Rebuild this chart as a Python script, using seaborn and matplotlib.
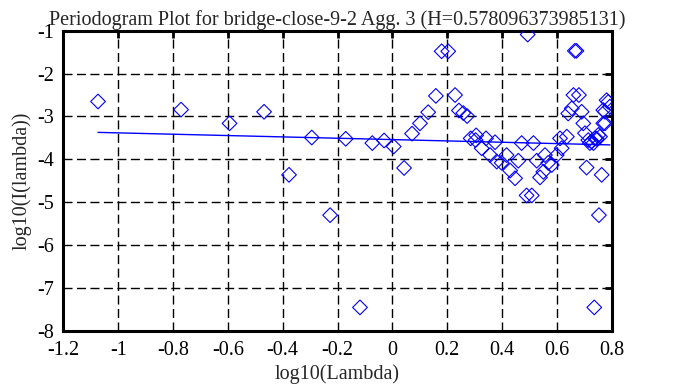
import numpy as np
import pandas as pd
import seaborn as sns
import matplotlib
matplotlib.use("Agg")
import matplotlib.pyplot as plt

# periodogram points (log10 lambda, log10 I(lambda))
log_lambda = [-1.074, -0.771, -0.594, -0.468, -0.377, -0.294, -0.227, -0.170,
              -0.118, -0.073, -0.030, 0.005, 0.043, 0.072, 0.101, 0.131,
              0.159, 0.180, 0.204, 0.229, 0.243, 0.259, 0.273, 0.286,
              0.306, 0.304, 0.326, 0.342, 0.357, 0.375, 0.381, 0.399,
              0.417, 0.430, 0.448, 0.460, 0.472, 0.490, 0.494, 0.509,
              0.515, 0.527, 0.539, 0.551, 0.557, 0.569, 0.582, 0.600,
              0.612, 0.618, 0.637, 0.642, 0.655, 0.661, 0.666, 0.672,
              0.681, 0.691, 0.697, 0.703, 0.709, 0.715, 0.721, 0.727,
              0.734, 0.737, 0.740, 0.746, 0.752, 0.754, 0.758, 0.764,
              0.770, 0.770, 0.776, 0.776, 0.782, 0.788, 0.794]
log_I = [-2.65, -2.84, -3.16, -2.89, -4.36, -3.49, -5.30, -3.52,
         -7.45, -3.62, -3.56, -3.70, -4.20, -3.40, -3.16, -2.90,
         -2.52, -1.48, -1.48, -2.50, -2.86, -2.92, -2.99, -3.51,
         -3.44, -3.55, -3.74, -3.51, -3.90, -3.60, -4.05, -4.08,
         -3.90, -4.26, -4.44, -4.03, -3.62, -4.84, -1.09, -4.84,
         -3.62, -4.03, -4.42, -4.29, -3.90, -4.08, -4.13, -3.90,
         -3.51, -3.74, -3.47, -2.93, -2.81, -2.50, -1.47, -1.47,
         -2.50, -2.89, -3.16, -3.39, -4.19, -3.55, -3.62, -3.58,
         -3.62, -7.45, -3.51, -3.52, -3.43, -5.30, -3.47, -4.36,
         -3.16, -2.85, -2.89, -3.16, -2.62, -2.66, -2.77]

hurst = 0.578096373985131
slope = 1 - 2 * hurst
intercept = -3.538

x_ticks = [-1.2, -1, -0.8, -0.6, -0.4, -0.2, 0, 0.2, 0.4, 0.6, 0.8]
y_ticks = [-8, -7, -6, -5, -4, -3, -2, -1]

df = pd.DataFrame({"x": log_lambda, "y": log_I})
fit_x = np.array([min(log_lambda), max(log_lambda)])
fit = pd.DataFrame({"x": fit_x, "y": intercept + slope * fit_x})

sns.set_style("white")
plt.rcParams['font.family'] = ['Liberation Serif', 'DejaVu Serif']

fig = plt.figure(figsize=(6.74, 3.87), dpi=100)
ax = fig.add_axes([0.0942, 0.1447, 0.8131, 0.776])

sns.scatterplot(data=df, x="x", y="y", ax=ax, marker="D", s=56,
                facecolor="none", edgecolor="blue", linewidth=0.8, zorder=3)
sns.lineplot(data=fit, x="x", y="y", ax=ax, color="blue", linewidth=1.0, zorder=4)

ax.set_xlim(-1.2, 0.8)
ax.set_ylim(-8, -1)
ax.set_xticks(x_ticks)
ax.set_xticklabels([f"{t:g}" for t in x_ticks])
ax.set_yticks(y_ticks)
ax.set_yticklabels([f"{t:g}" for t in y_ticks])
ax.grid(True, color="black", linestyle=(0, (6.5, 3.2)), linewidth=1.0)
ax.tick_params(direction="in", length=5, width=2, top=True, right=True,
               labelsize=14.5, colors="black", pad=7)
for sp in ax.spines.values():
    sp.set_linewidth(2.2)
    sp.set_color("black")

ax.set_xlabel("log10(Lambda)", fontsize=14.5, labelpad=3)
ax.set_ylabel("log10(I(lambda))", fontsize=14.5, labelpad=4)
ax.set_title("Periodogram Plot for bridge-close-9-2 Agg. 3 (H=0.578096373985131)",
             fontsize=14.5, pad=4)

plt.savefig("out.png", dpi=100)
